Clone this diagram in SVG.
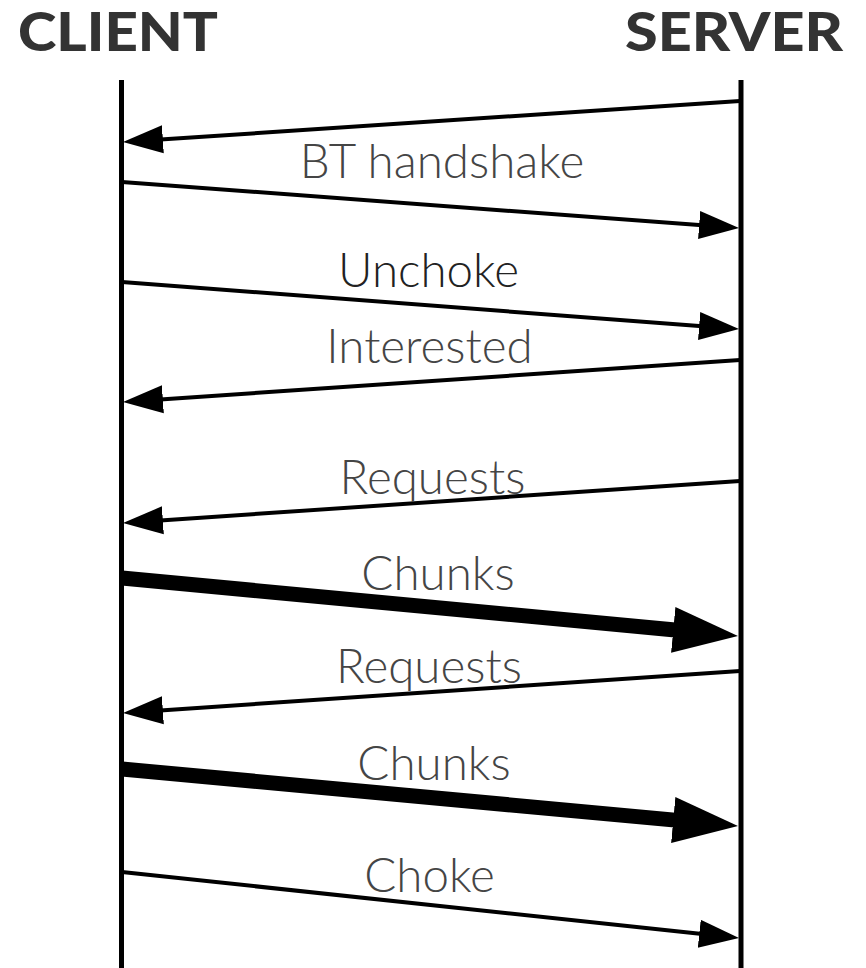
<svg xmlns="http://www.w3.org/2000/svg" width="866" height="968" viewBox="0 0 866 968">
<style>
.hdr{font-family:Lato,"Liberation Sans",sans-serif;font-weight:900;font-size:53px;fill:#333}
.lbl{font-family:Lato,"Liberation Sans",sans-serif;font-weight:300;font-size:47.5px;fill:#454545}
.life{stroke:#000;stroke-width:5}
.thin{stroke:#000;stroke-width:4;fill:none}
.thick{stroke:#000;stroke-width:15;fill:none}
</style>
<defs>
<marker id="ah" markerUnits="userSpaceOnUse" markerWidth="50" markerHeight="40" viewBox="0 -20 50 40" refX="10" refY="0" orient="auto">
<path d="M0,-14 L40,0 L0,14 z" fill="#000"/>
</marker>
<marker id="ahb" markerUnits="userSpaceOnUse" markerWidth="80" markerHeight="60" viewBox="0 -30 80 60" refX="10" refY="0" orient="auto">
<path d="M0,-23 L65,0 L0,23 z" fill="#000"/>
</marker>
</defs>
<g id="client">
<text class="hdr" x="18" y="51" textLength="200" lengthAdjust="spacingAndGlyphs">CLIENT</text>
<line class="life" x1="121.5" y1="80" x2="121.5" y2="968"/>
</g>
<g id="server">
<text class="hdr" x="625" y="51" textLength="218" lengthAdjust="spacingAndGlyphs">SERVER</text>
<line class="life" x1="741" y1="80" x2="741" y2="968"/>
</g>
<g id="connectors">
<line class="thin" x1="740" y1="101" x2="152.9" y2="140" marker-end="url(#ah)"/>
<line class="thin" x1="122" y1="182" x2="709.1" y2="225.8" marker-end="url(#ah)"/>
<line class="thin" x1="122" y1="282" x2="709.1" y2="326.7" marker-end="url(#ah)"/>
<line class="thin" x1="740" y1="360" x2="152.9" y2="400" marker-end="url(#ah)"/>
<line class="thin" x1="740" y1="481" x2="152.9" y2="521" marker-end="url(#ah)"/>
<line class="thick" x1="122" y1="578" x2="683.2" y2="630.8" marker-end="url(#ahb)"/>
<line class="thin" x1="740" y1="671" x2="152.9" y2="711" marker-end="url(#ah)"/>
<line class="thick" x1="122" y1="769" x2="683.2" y2="820.9" marker-end="url(#ahb)"/>
<line class="thin" x1="122" y1="872" x2="709.2" y2="934.8" marker-end="url(#ah)"/>
</g>
<g id="labels">
<text class="lbl" x="442" y="178" text-anchor="middle">BT handshake</text>
<text class="lbl" x="428.5" y="287" text-anchor="middle" style="fill:#222">Unchoke</text>
<text class="lbl" x="429.5" y="363" text-anchor="middle">Interested</text>
<text class="lbl" x="432.5" y="494" text-anchor="middle">Requests</text>
<text class="lbl" x="438" y="590" text-anchor="middle">Chunks</text>
<text class="lbl" x="429" y="683" text-anchor="middle">Requests</text>
<text class="lbl" x="434" y="780" text-anchor="middle">Chunks</text>
<text class="lbl" x="429.5" y="892" text-anchor="middle">Choke</text>
</g>
</svg>
